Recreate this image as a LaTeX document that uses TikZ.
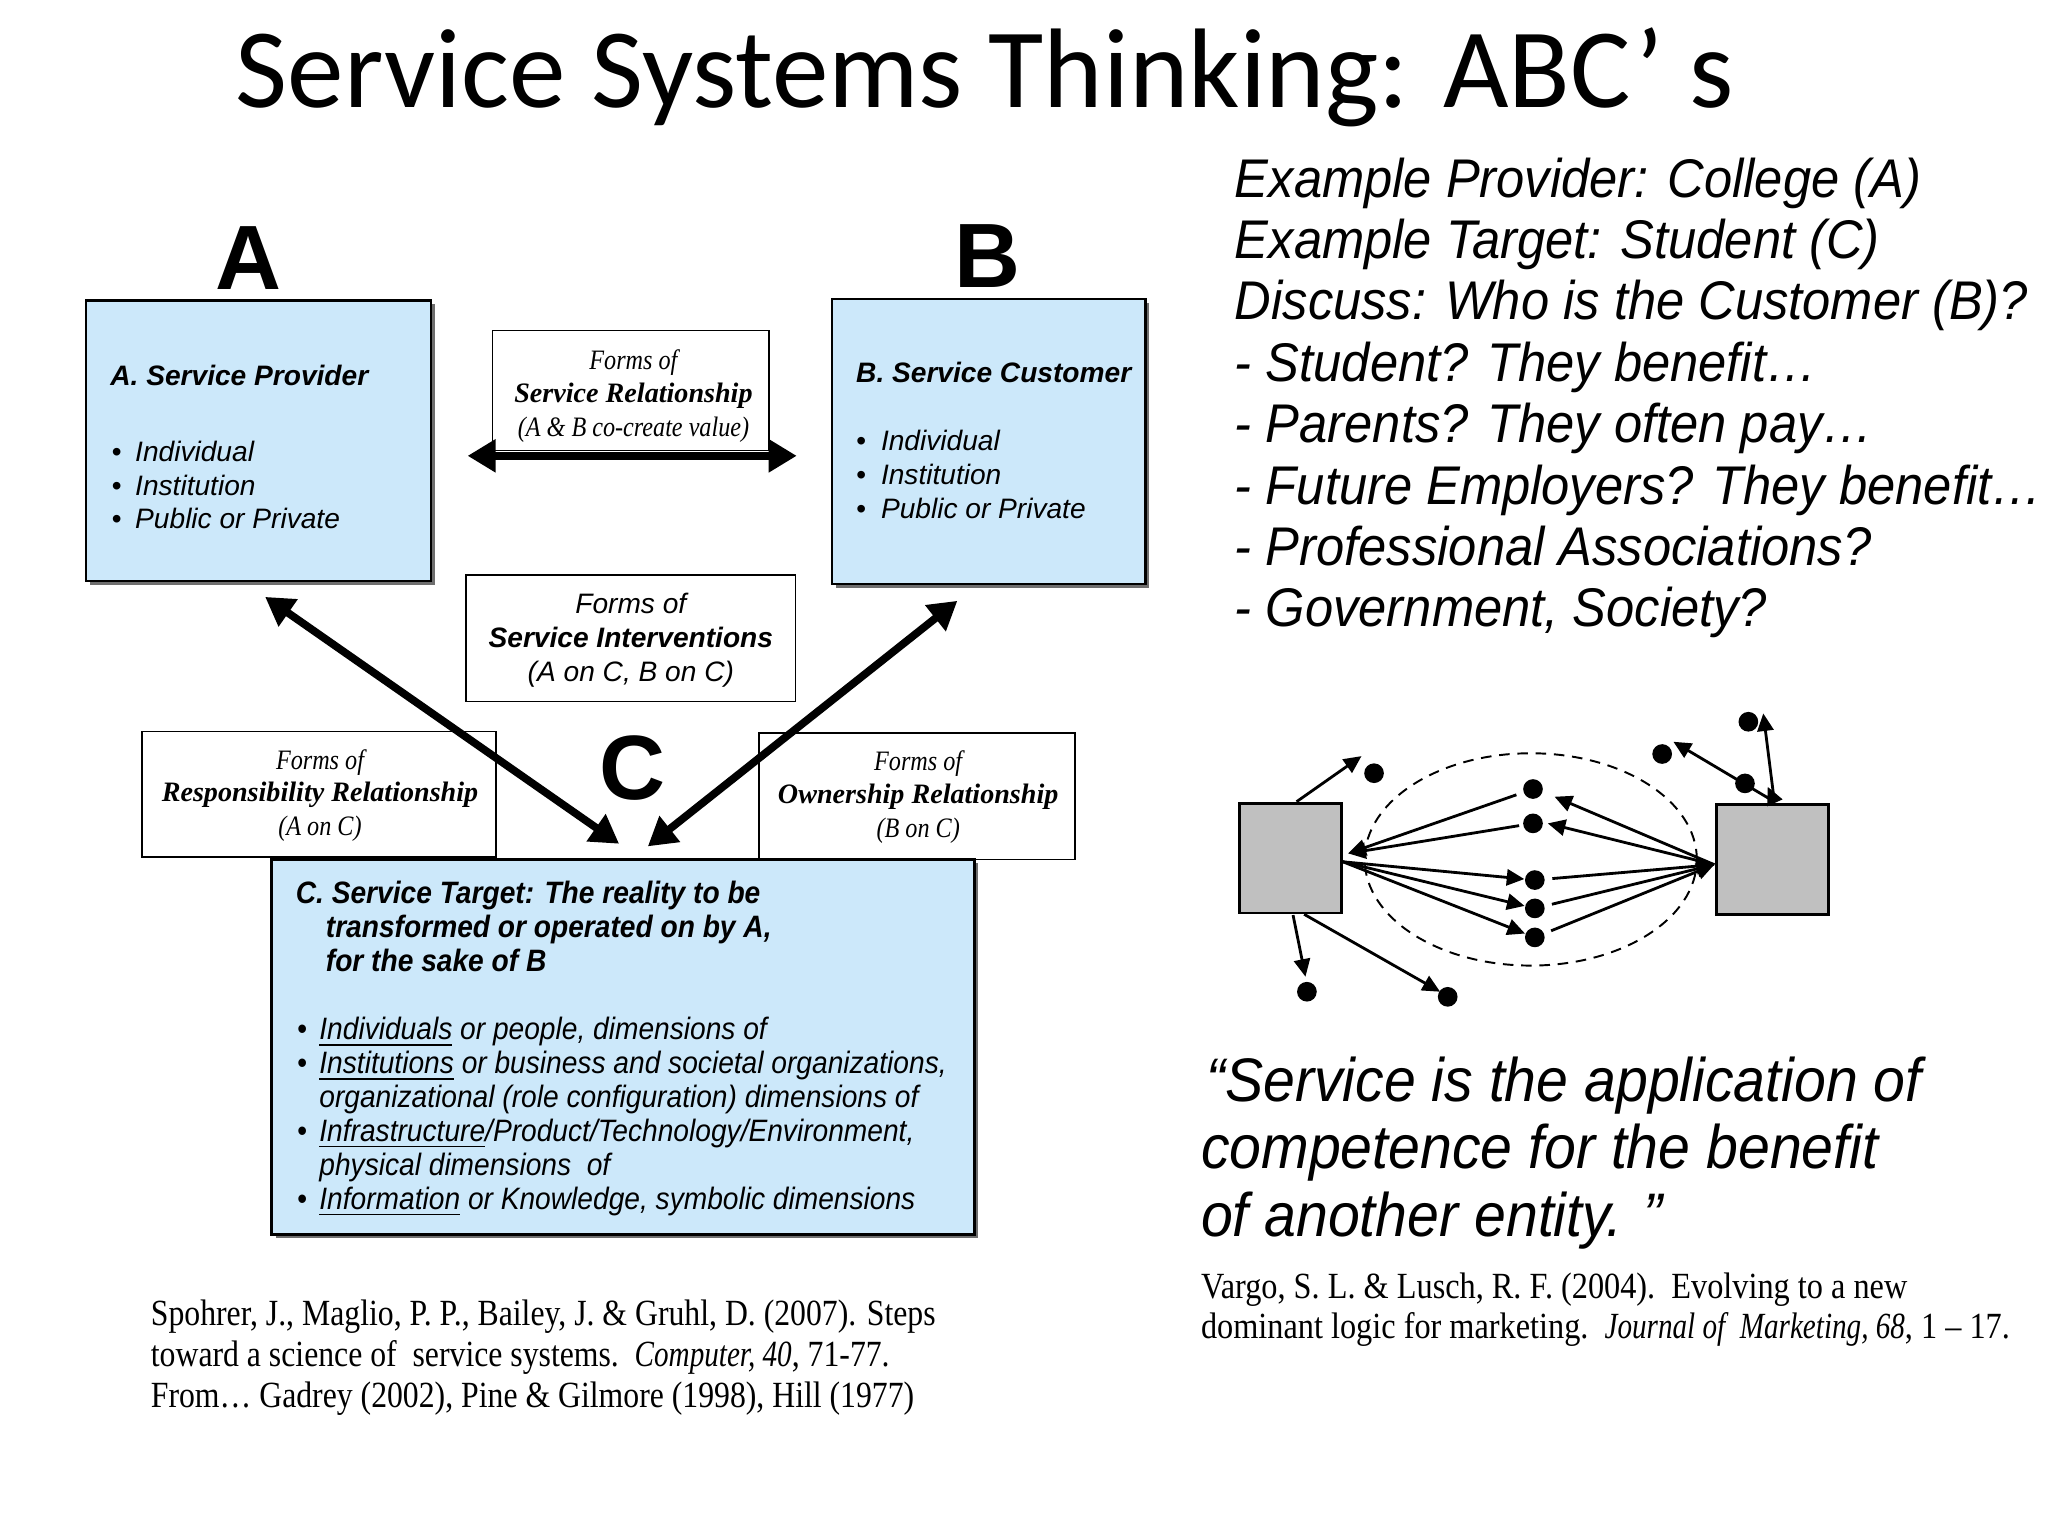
\documentclass[tikz,border=0pt]{standalone}
\usepackage{fontspec}
\setmainfont{Liberation Sans}
\newfontfamily\titlefont{Carlito}
\newfontfamily\listfont[FakeStretch=0.93]{Liberation Sans}
\newfontfamily\narrowfont[FakeStretch=0.91]{Liberation Sans}
\newfontfamily\refsfont[FakeStretch=0.86]{Liberation Serif}
\newfontfamily\refsfontr[FakeStretch=0.875]{Liberation Serif}
\newfontfamily\refital[FakeStretch=0.79]{Liberation Serif}
\newfontfamily\formsfont{Liberation Serif}
\newfontfamily\formsnarrow[FakeStretch=0.86]{Liberation Serif}
\usetikzlibrary{arrows.meta,shapes.geometric,fit}
\definecolor{boxblue}{RGB}{204,232,250}
\definecolor{shadowgray}{RGB}{110,110,110}
\definecolor{netgray}{RGB}{192,192,192}
\newcommand\fs[1]{\fontsize{#1}{#1}\selectfont}
\begin{document}
\begin{tikzpicture}[x=0.01306cm,y=-0.01306cm,
  lt/.style={inner sep=0pt,anchor=base west},
  ct/.style={inner sep=0pt,anchor=base},
  bluebox/.style={draw=black,line width=0.7pt,fill=boxblue,inner sep=0pt},
  shadowbox/.style={fill=shadowgray,draw=none,inner sep=0pt},
  formbox/.style={draw=black,line width=0.5pt,fill=white,inner sep=0pt},
  boxtext/.style={lt,font=\fs{8}\itshape},
  boxhead/.style={lt,font=\fs{8}\bfseries\itshape},
  ctext/.style={lt,font=\narrowfont\fs{8.8}\itshape},
  chead/.style={lt,font=\narrowfont\fs{8.8}\bfseries\itshape},
  formtext/.style={ct,font=\formsnarrow\fs{8}\itshape},
  formhead/.style={ct,font=\formsfont\fs{8}\bfseries\itshape},
  bigletter/.style={ct,font=\fs{26}\bfseries},
  listtext/.style={lt,font=\listfont\fs{15.5}\itshape},
  quotetext/.style={lt,font=\listfont\fs{17.5}\itshape},
  reftext/.style={lt,font=\refsfont\fs{10.5}},
  reftextr/.style={lt,font=\refsfontr\fs{10.5}},
  bigarrow/.style={{Triangle[length=8pt,width=9pt]}-{Triangle[length=8pt,width=9pt]},line width=2.2pt},
  netarrow/.style={-{Triangle[length=5pt,width=4.6pt]},line width=0.8pt},
  dot/.style={circle,fill=black,inner sep=0pt,minimum size=5.6pt},
  graybox/.style={draw=black,line width=0.8pt,fill=netgray,inner sep=0pt},
]
\useasboundingbox[fill=white] (0,0) rectangle (1568,1176);

% title
\node[ct,font=\titlefont\fs{32.2}] (title) at (754,82) {Service Systems Thinking: ABC’ s};

% big letters
\node[bigletter] (LA) at (190,222) {A};
\node[bigletter] (LB) at (756,220) {B};
\node[bigletter] (LC) at (484,612) {C};

% box A
\node[shadowbox,fit={(69,233)(333,448)}] (shA) {};
\node[bluebox,fit={(66,230)(330,445)}] (boxA) {};
\node[boxhead] (atitle) at (84,295) {A. Service Provider};
\node[boxtext] (ab1) at (85,353) {\textbullet};
\node[boxtext] (ab2) at (85,379) {\textbullet};
\node[boxtext] (ab3) at (85,405) {\textbullet};
\node[boxtext] (ai1) at (103,353) {Individual};
\node[boxtext] (ai2) at (103,379) {Institution};
\node[boxtext] (ai3) at (103,405) {Public or Private};

% box B
\node[shadowbox,fit={(640,232)(880,450)}] (shB) {};
\node[bluebox,fit={(637,229)(877,447)}] (boxB) {};
\node[boxhead] (btitle) at (655,293) {B. Service Customer};
\node[boxtext] (bb1) at (655,345) {\textbullet};
\node[boxtext] (bb2) at (655,371) {\textbullet};
\node[boxtext] (bb3) at (655,397) {\textbullet};
\node[boxtext] (bi1) at (674,345) {Individual};
\node[boxtext] (bi2) at (674,371) {Institution};
\node[boxtext] (bi3) at (674,397) {Public or Private};

% service relationship box and arrow
\node[formbox,fit={(377,253)(589,345)}] (relbox) {};
\node[formtext] (rel1) at (485,283) {Forms of};
\node[formhead] (rel2) at (485,308) {Service Relationship};
\node[formtext] (rel3) at (485,334) {(A \& B co-create value)};
\coordinate (relL) at (358,349);
\coordinate (relR) at (610,349);
\draw[bigarrow] (relL) -- (relR);

% interventions box
\node[formbox,fit={(357,440)(609,537)}] (intbox) {};
\node[ct,font=\fs{8}\itshape] (int1) at (483,470) {Forms of};
\node[ct,font=\fs{8}\bfseries\itshape] (int2) at (483,496) {Service Interventions};
\node[ct,font=\fs{8}\itshape] (int3) at (483,522) {(A on C, B on C)};

% responsibility box
\node[formbox,fit={(109,560)(380,656)}] (resbox) {};
\node[formtext] (res1) at (245,589) {Forms of};
\node[formhead] (res2) at (245,614) {Responsibility Relationship};
\node[formtext] (res3) at (245,640) {(A on C)};

% ownership box
\node[formbox,fit={(581,561)(823,658)}] (ownbox) {};
\node[formtext] (own1) at (703,590) {Forms of};
\node[formhead] (own2) at (703,615) {Ownership Relationship};
\node[formtext] (own3) at (703,641) {(B on C)};

% big diagonal arrows
\coordinate (aA) at (203,457);
\coordinate (aC1) at (474,646);
\coordinate (aB) at (733,460);
\coordinate (aC2) at (496,648);
\draw[bigarrow] (aA) -- (aC1);
\draw[bigarrow] (aB) -- (aC2);

% box C
\node[shadowbox,fit={(211,661)(749,948)}] (shC) {};
\node[bluebox,fit={(208,658)(746,945)}] (boxC) {};
\node[chead] (ct1) at (226,692) {C. Service Target: The reality to be};
\node[chead] (ct2) at (249,718) {transformed or operated on by A,};
\node[chead] (ct3) at (249,744) {for the sake of B};
\node[ctext] (cb1) at (227,796) {\textbullet};
\node[ctext] (cb2) at (227,822) {\textbullet};
\node[ctext] (cb3) at (227,874) {\textbullet};
\node[ctext] (cb4) at (227,926) {\textbullet};
\node[ctext] (ci1) at (244,796) {\underline{Individuals} or people, dimensions of};
\node[ctext] (ci2) at (244,822) {\underline{Institutions} or business and societal organizations,};
\node[ctext] (ci2b) at (244,848) {organizational (role configuration) dimensions of};
\node[ctext] (ci3) at (244,874) {\underline{Infrastructure}/Product/Technology/Environment,};
\node[ctext] (ci3b) at (244,900) {physical dimensions\ \ of};
\node[ctext] (ci4) at (244,926) {\underline{Information} or Knowledge, symbolic dimensions};

% references left
\node[reftext] (refl1) at (115,1015) {Spohrer, J., Maglio, P. P., Bailey, J. \& Gruhl, D. (2007). Steps};
\node[reftext] (refl2) at (115,1046) {toward a science of\ \ service systems.\ \ {\refital\itshape Computer, 40}, 71-77.};
\node[reftext] (refl3) at (115,1078) {From… Gadrey (2002), Pine \& Gilmore (1998), Hill (1977)};

% right list
\node[listtext] (l1) at (945,151) {Example Provider: College (A)};
\node[listtext] (l2) at (945,198) {Example Target: Student (C)};
\node[listtext] (l3) at (945,245) {Discuss: Who is the Customer (B)?};
\node[listtext] (l4) at (945,292) {- Student? They benefit…};
\node[listtext] (l5) at (945,339) {- Parents? They often pay…};
\node[listtext] (l6) at (945,386) {- Future Employers? They benefit…};
\node[listtext] (l7) at (945,433) {- Professional Associations?};
\node[listtext] (l8) at (945,480) {- Government, Society?};

% network
\node[graybox,fit={(949,615)(1027,699)}] (nL) {};
\node[graybox,fit={(1314,616)(1400,700)}] (nR) {};
\node[ellipse,draw,dashed,dash pattern=on 3pt off 2.2pt,line width=0.55pt,minimum width=255*0.3706pt,minimum height=163*0.3706pt,inner sep=0pt] (ell) at (1172,658) {};
\node[dot] (d1) at (1173.7,604.1) {};
\node[dot] (d2) at (1173.7,630.4) {};
\node[dot] (d3) at (1175.1,673.8) {};
\node[dot] (d4) at (1175.1,695.5) {};
\node[dot] (d5) at (1175.1,717.7) {};
\node[dot] (o1) at (1052,592) {};
\node[dot] (o2) at (1000.6,759.3) {};
\node[dot] (o3) at (1108.4,763.2) {};
\node[dot] (o4) at (1272.6,577.3) {};
\node[dot] (o5) at (1338.6,552.6) {};
\node[dot] (o6) at (1336,599.8) {};
\coordinate (lTop) at (992.7,613.8);
\coordinate (hO1) at (1042.4,578.9);
\coordinate (hL) at (1032.2,653.4);
\coordinate (lSrc) at (1028.1,659.8);
\coordinate (rPt) at (1312.5,662);
\coordinate (hD1) at (1190.2,610);
\coordinate (hD2) at (1185,630.4);
\coordinate (rTop) at (1358.5,613.8);
\coordinate (hO4) at (1281.2,567.9);
\coordinate (hO5) at (1350,546.2);
\coordinate (hO6) at (1353.4,602.4);
\coordinate (lBot1) at (990,700.6);
\coordinate (hO2) at (999.5,747.8);
\coordinate (lBot2) at (998.5,700);
\coordinate (hO3) at (1102.6,759.3);
\draw[netarrow] (lTop) -- (hO1);
\draw[netarrow,shorten <=2pt] (d1) -- (hL);
\draw[netarrow,shorten <=1pt] (d2) -- (hL);
\draw[netarrow] (lSrc) -- (d3);
\draw[netarrow] (lSrc) -- (d4);
\draw[netarrow] (lSrc) -- (d5);
\draw[netarrow,shorten <=2pt] (d3) -- (rPt);
\draw[netarrow,shorten <=2pt] (d4) -- (rPt);
\draw[netarrow,shorten <=2pt] (d5) -- (rPt);
\draw[netarrow] (rPt) -- (hD1);
\draw[netarrow] (rPt) -- (hD2);
\draw[netarrow] (rTop) -- (hO4);
\draw[netarrow] (rTop) -- (hO5);
\draw[netarrow] (rTop) -- (hO6);
\draw[netarrow] (lBot1) -- (hO2);
\draw[netarrow] (lBot2) -- (hO3);

% quote
\node[quotetext] (q1) at (923,843) {“Service is the application of};
\node[quotetext] (q2) at (919,895) {competence for the benefit};
\node[quotetext] (q3) at (919,947) {of another entity. ”};

% references right
\node[reftextr] (refr1) at (919,994) {Vargo, S. L. \& Lusch, R. F. (2004).\ \ Evolving to a new};
\node[reftextr] (refr2) at (919,1025) {dominant logic for marketing.\ \ {\refital\itshape Journal of\ \ Marketing, 68}, 1 – 17.};
\end{tikzpicture}
\end{document}
